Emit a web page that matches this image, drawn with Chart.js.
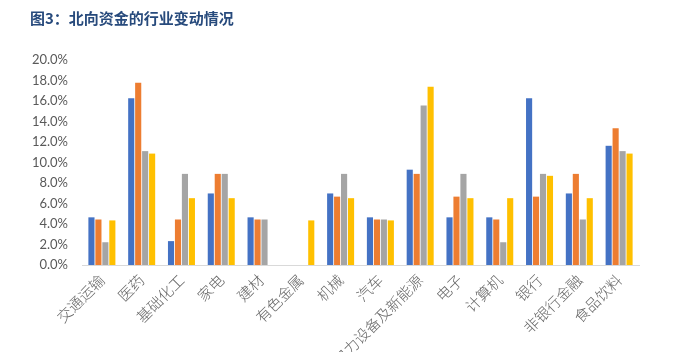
<!DOCTYPE html>
<html>
<head>
<meta charset="utf-8">
<script src="https://cdn.jsdelivr.net/npm/chart.js@4"></script>
<style>
  body { margin: 0; background: #fff; }
  .wrap { position: relative; width: 674px; height: 352px; }
  .title {
    position: absolute; left: 30px; top: 7px;
    font: bold 15px "Noto Sans CJK SC", sans-serif;
    color: #274a7c;
  }
</style>
</head>
<body>
<div class="wrap">
  <div class="title">图3：北向资金的行业变动情况</div>
  <canvas id="industryChart" width="674" height="352"></canvas>
</div>
<script>
  const categories = ['交通运输', '医药', '基础化工', '家电', '建材', '有色金属', '机械', '汽车', '电力设备及新能源', '电子', '计算机', '银行', '非银行金融', '食品饮料'];
  // values in %
  const series1 = [4.65, 16.28, 2.33, 6.98, 4.65, 0, 6.98, 4.65, 9.30, 4.65, 4.65, 16.28, 6.98, 11.63];
  const series2 = [4.44, 17.78, 4.44, 8.89, 4.44, 0, 6.67, 4.44, 8.89, 6.67, 4.44, 6.67, 8.89, 13.33];
  const series3 = [2.22, 11.11, 8.89, 8.89, 4.44, 0, 8.89, 4.44, 15.56, 8.89, 2.22, 8.89, 4.44, 11.11];
  const series4 = [4.35, 10.87, 6.52, 6.52, 0, 4.35, 6.52, 4.35, 17.39, 6.52, 6.52, 8.70, 6.52, 10.87];
  const yTicks = [0, 2, 4, 6, 8, 10, 12, 14, 16, 18, 20];

  const colors = ['#4472C4', '#ED7D31', '#A5A5A5', '#FFC000'];

  const ctx = document.getElementById('industryChart').getContext('2d');
  new Chart(ctx, {
    type: 'bar',
    data: {
      labels: categories,
      datasets: [series1, series2, series3, series4].map((d, i) => ({
        label: '系列' + (i + 1),
        data: d,
        backgroundColor: colors[i],
        borderWidth: 0
      }))
    },
    options: {
      responsive: false,
      animation: false,
      layout: { padding: { top: 60, right: 35, left: 0, bottom: 0 } },
      plugins: { legend: { display: false }, tooltip: { enabled: false } },
      datasets: { bar: { categoryPercentage: 0.7, barPercentage: 0.88 } },
      scales: {
        x: {
          grid: { display: false, drawTicks: false },
          border: { display: true, color: '#D9D9D9', width: 1 },
          ticks: {
            autoSkip: false,
            maxRotation: 45,
            minRotation: 45,
            padding: 6,
            color: '#666666',
            font: { family: '"Noto Sans CJK SC", sans-serif', size: 15, weight: '300' }
          },
          afterFit: (scale) => { scale.height = 87; }
        },
        y: {
          min: yTicks[0],
          max: yTicks[yTicks.length - 1],
          grid: { display: false, drawTicks: false },
          border: { display: false },
          afterBuildTicks: (scale) => { scale.ticks = yTicks.map(v => ({ value: v })); },
          ticks: {
            padding: 14,
            color: '#595959',
            font: { family: 'Lato, "Open Sans", sans-serif', size: 13 },
            callback: (v) => v.toFixed(1) + '%'
          },
          afterFit: (scale) => { scale.width = 82; }
        }
      }
    }
  });
</script>
</body>
</html>
